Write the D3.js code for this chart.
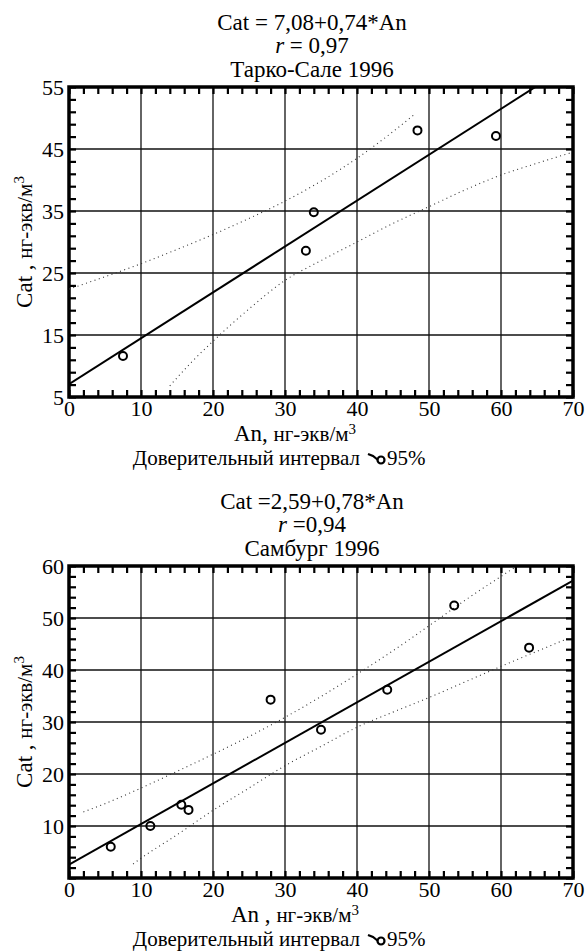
<!DOCTYPE html>
<html>
<head>
<meta charset="utf-8">
<script src="https://cdn.jsdelivr.net/npm/d3@7"></script>
<style>
body { margin: 0; background: #fff; }
svg, svg text { font-family: "Liberation Serif", "DejaVu Serif", serif !important; fill: #000; }
</style>
</head>
<body>
<div id="chart"></div>
<script>
// shared x axis labels
const xTickVals = [0, 10, 20, 30, 40, 50, 60, 70];

// Тарко-Сале 1996
const tarkoTitle = ["Cat = 7,08+0,74*An", "= 0,97", "Тарко-Сале 1996"];
const tarkoFit = [7.08, 0.74];           // intercept, slope
const tarkoYTicks = [5, 15, 25, 35, 45, 55];
const tarkoAn = [7.5, 32.9, 34.0, 48.4, 59.3];
const tarkoCat = [11.6, 28.6, 34.8, 48.0, 47.1];
const tarkoUpper = [[0, 22.4], [5, 24.4], [10, 26.5], [15, 28.8], [20, 31.2], [25, 33.8], [30, 36.6], [35, 39.8], [40, 43.5], [45, 47.8], [48, 50.6]];
const tarkoLower = [[14, 6.8], [17, 10.6], [20, 14.0], [25, 19.2], [30, 23.8], [35, 27.0], [40, 30.0], [45, 33.0], [50, 35.7], [55, 38.4], [60, 40.8], [65, 42.7], [70, 44.5]];

// Самбург 1996
const samTitle = ["Cat =2,59+0,78*An", "=0,94", "Самбург 1996"];
const samFit = [2.59, 0.78];
const samYTicks = [10, 20, 30, 40, 50, 60];
const samAn = [5.8, 11.3, 15.6, 16.6, 28.0, 35.0, 44.2, 53.5, 63.9];
const samCat = [6.0, 10.0, 14.1, 13.1, 34.3, 28.5, 36.2, 52.4, 44.3];
const samUpper = [[2, 12.7], [5, 14.3], [10, 17.3], [15, 20.5], [20, 23.8], [25, 27.2], [30, 30.9], [35, 34.9], [40, 39.2], [45, 43.7], [50, 48.5], [55, 53.4], [60, 58.0], [62, 59.8]];
const samLower = [[8.9, 2.7], [10, 3.8], [15, 8.3], [20, 13.0], [25, 17.3], [30, 21.6], [35, 25.3], [40, 29.0], [45, 31.9], [50, 34.7], [55, 37.7], [60, 40.7], [65, 43.6], [69, 45.9]];

const W = 587, H = 951;
const left = 69, right = 573;
const serif = "Liberation Serif, DejaVu Serif, serif";

const svg = d3.select("#chart").append("svg")
    .attr("width", W)
    .attr("height", H)
    .attr("font-family", serif);

function drawPanel(p) {
    const x = d3.scaleLinear().domain([0, 70]).range([left, right]);
    const y = d3.scaleLinear().domain(p.yDomain).range([p.bottom, p.top]);
    const g = svg.append("g");

    svg.append("clipPath").attr("id", "clip-" + p.id)
        .append("rect")
        .attr("x", left).attr("y", p.top)
        .attr("width", right - left).attr("height", p.bottom - p.top);

    // title lines
    g.append("text").attr("x", 312).attr("y", p.top - 57).attr("text-anchor", "middle")
        .attr("font-size", 23).text(p.title[0]);
    const rLine = g.append("text").attr("x", 312).attr("y", p.top - 34).attr("text-anchor", "middle")
        .attr("font-size", 23);
    rLine.append("tspan").attr("font-style", "italic").text("r ");
    rLine.append("tspan").text(p.title[1]);
    g.append("text").attr("x", 312).attr("y", p.top - 10).attr("text-anchor", "middle")
        .attr("font-size", 23).text(p.title[2]);

    // grid lines
    g.selectAll(".vgrid").data(xTickVals.filter(d => d > 0 && d < 70)).enter().append("line")
        .attr("x1", d => x(d)).attr("x2", d => x(d))
        .attr("y1", p.top).attr("y2", p.bottom)
        .attr("stroke", "#111").attr("stroke-width", 1.3);
    g.selectAll(".hgrid").data(p.yTicks.filter(d => d > p.yDomain[0] && d < p.yDomain[1])).enter().append("line")
        .attr("x1", left).attr("x2", right)
        .attr("y1", d => y(d)).attr("y2", d => y(d))
        .attr("stroke", "#111").attr("stroke-width", 1.3);

    // minor ticks, pointing inward on all four sides
    const xMinor = d3.range(0, 71, 2);
    const yMinor = d3.range(p.yDomain[0], p.yDomain[1] + 1, 2);
    const tickStyle = sel => {
        sel.select(".domain").remove();
        sel.selectAll("line").attr("stroke", "#000").attr("stroke-width", 2.2);
    };
    g.append("g").attr("transform", `translate(0,${p.bottom})`)
        .call(d3.axisBottom(x).tickValues(xMinor).tickSize(-7).tickFormat("")).call(tickStyle);
    g.append("g").attr("transform", `translate(0,${p.top})`)
        .call(d3.axisTop(x).tickValues(xMinor).tickSize(-7).tickFormat("")).call(tickStyle);
    g.append("g").attr("transform", `translate(${left},0)`)
        .call(d3.axisLeft(y).tickValues(yMinor).tickSize(-7).tickFormat("")).call(tickStyle);
    g.append("g").attr("transform", `translate(${right},0)`)
        .call(d3.axisRight(y).tickValues(yMinor).tickSize(-7).tickFormat("")).call(tickStyle);

    // frame
    g.append("rect")
        .attr("x", left).attr("y", p.top)
        .attr("width", right - left).attr("height", p.bottom - p.top)
        .attr("fill", "none").attr("stroke", "#000").attr("stroke-width", 3.5);

    // tick labels
    const xAx = g.append("g").attr("transform", `translate(0,${p.bottom})`)
        .call(d3.axisBottom(x).tickValues(xTickVals).tickSize(0).tickPadding(3));
    xAx.attr("font-family", serif).attr("font-size", 22);
    xAx.select(".domain").remove();
    const yAx = g.append("g").attr("transform", `translate(${left},0)`)
        .call(d3.axisLeft(y).tickValues(p.yTicks).tickSize(0).tickPadding(5));
    yAx.attr("font-family", serif).attr("font-size", 22);
    yAx.select(".domain").remove();

    const plot = g.append("g").attr("clip-path", `url(#clip-${p.id})`);

    // confidence bands
    const band = d3.line().x(d => x(d[0])).y(d => y(d[1])).curve(d3.curveMonotoneX);
    [p.upper, p.lower].forEach(b => {
        plot.append("path").attr("d", band(b))
            .attr("fill", "none").attr("stroke", "#333")
            .attr("stroke-width", 1.1).attr("stroke-dasharray", "1 3.5");
    });

    // regression line
    const fitX = [0, 70];
    plot.append("line")
        .attr("x1", x(fitX[0])).attr("y1", y(p.fit[0] + p.fit[1] * fitX[0]))
        .attr("x2", x(fitX[1])).attr("y2", y(p.fit[0] + p.fit[1] * fitX[1]))
        .attr("stroke", "#000").attr("stroke-width", 2);

    // data points
    g.selectAll(".pt-" + p.id).data(p.an).enter().append("circle")
        .attr("cx", d => x(d))
        .attr("cy", (d, i) => y(p.cat[i]))
        .attr("r", 4)
        .attr("fill", "none").attr("stroke", "#000").attr("stroke-width", 2);

    // y axis title
    const yt = g.append("text")
        .attr("transform", `translate(32,${(p.top + p.bottom) / 2}) rotate(-90)`)
        .attr("text-anchor", "middle").attr("font-size", 23);
    yt.append("tspan").text("Cat , ");
    yt.append("tspan").attr("font-size", 21).text("нг-экв/м");
    yt.append("tspan").attr("font-size", 15).attr("dy", -8).text("3");

    // x axis title
    const xt = g.append("text").attr("x", 295).attr("y", p.bottom + 44)
        .attr("text-anchor", "middle").attr("font-size", 23);
    xt.append("tspan").text(p.id === "tarko" ? "An, " : "An , ");
    xt.append("tspan").attr("font-size", 21).text("нг-экв/м");
    xt.append("tspan").attr("font-size", 15).attr("dy", -7).text("3");

    // legend
    const ly = p.bottom + 68;
    g.append("text").attr("x", 360).attr("y", ly).attr("text-anchor", "end")
        .attr("font-size", 21).text("Доверительный интервал");
    const sym = g.append("g").attr("transform", `translate(377,${ly - 7})`);
    sym.append("path").attr("d", "M-9,-4 L-4,-2 L1,2")
        .attr("fill", "none").attr("stroke", "#000").attr("stroke-width", 2.2);
    sym.append("circle").attr("cx", 4).attr("cy", 2).attr("r", 3.5)
        .attr("fill", "none").attr("stroke", "#000").attr("stroke-width", 2.2);
    g.append("text").attr("x", 387).attr("y", ly).attr("font-size", 21).text("95%");
}

drawPanel({
    id: "tarko", top: 87, bottom: 397, yDomain: [5, 55], yTicks: tarkoYTicks,
    title: tarkoTitle, fit: tarkoFit, an: tarkoAn, cat: tarkoCat,
    upper: tarkoUpper, lower: tarkoLower
});
drawPanel({
    id: "sam", top: 566, bottom: 878, yDomain: [0, 60], yTicks: samYTicks,
    title: samTitle, fit: samFit, an: samAn, cat: samCat,
    upper: samUpper, lower: samLower
});
</script>
</body>
</html>
